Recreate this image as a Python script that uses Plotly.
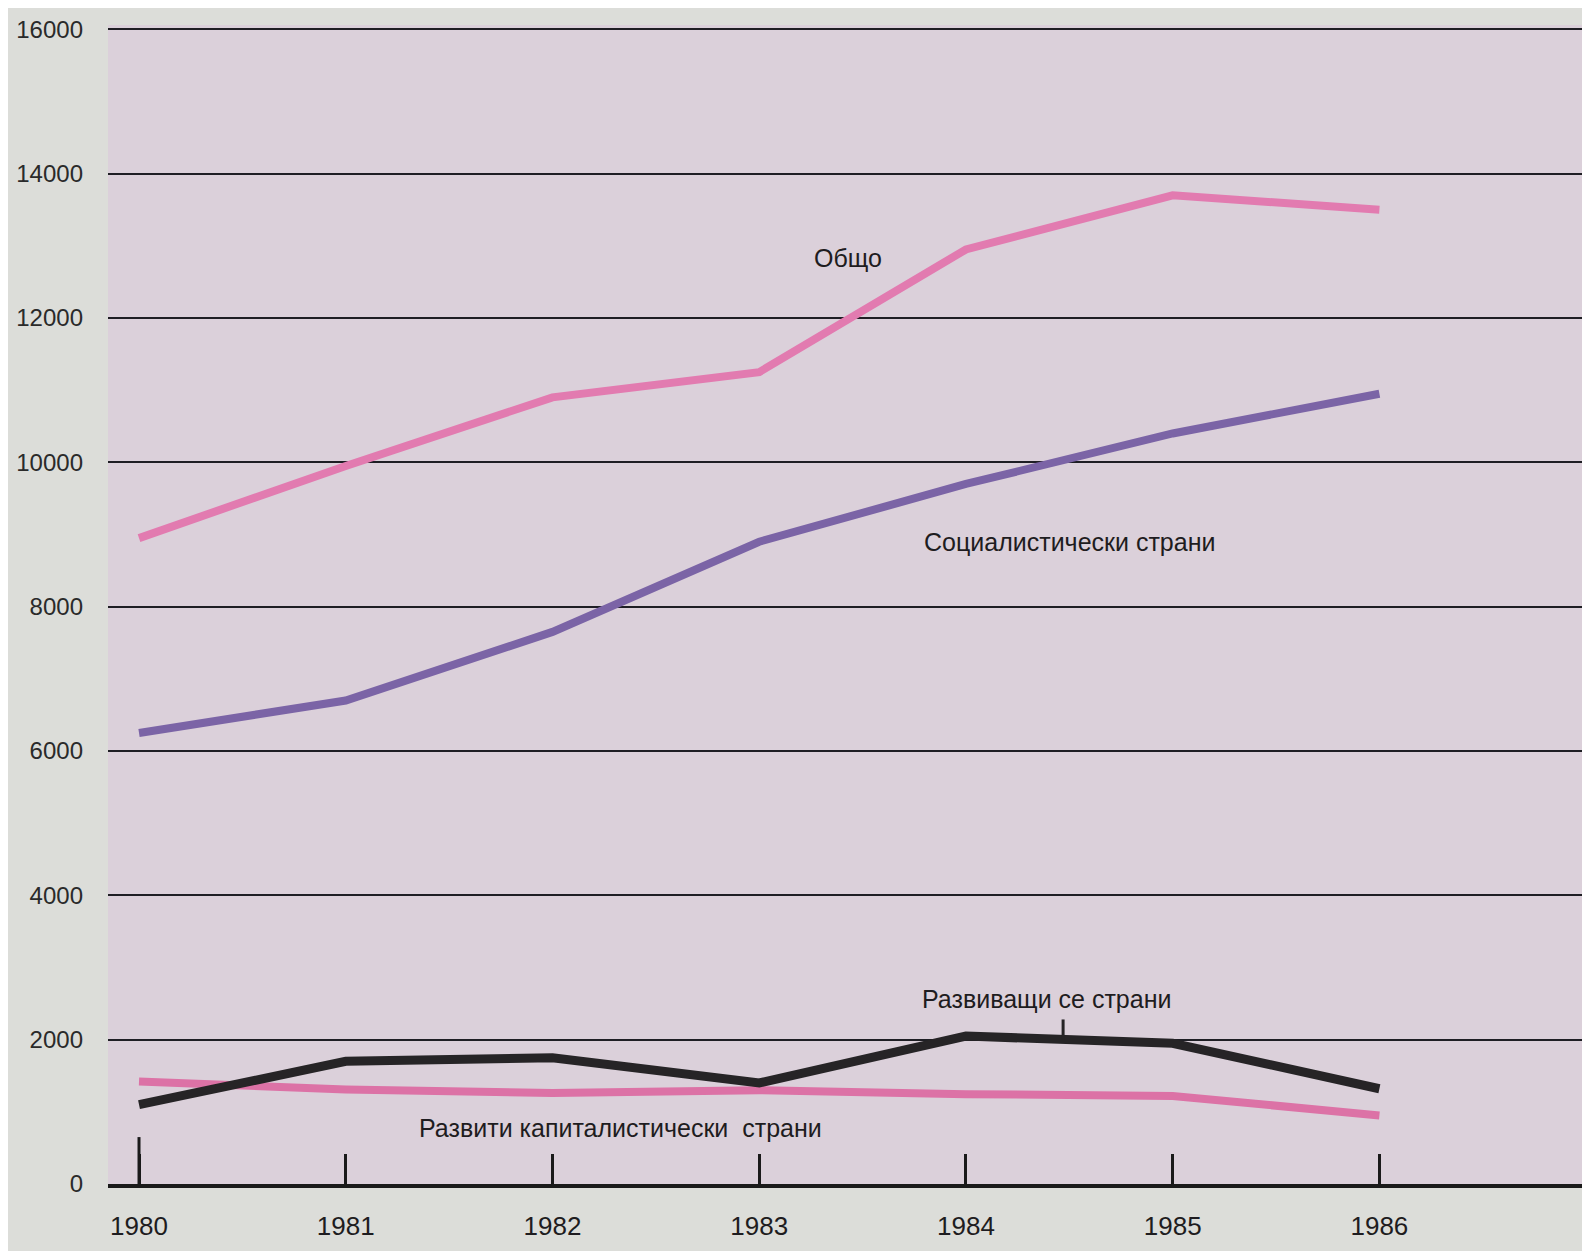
import plotly.graph_objects as go

years = [1980, 1981, 1982, 1983, 1984, 1985, 1986]
total = [8950, 9950, 10900, 11250, 12950, 13700, 13500]
socialist = [6250, 6700, 7650, 8900, 9700, 10400, 10950]
developing = [1100, 1700, 1750, 1400, 2050, 1950, 1320]
capitalist = [1420, 1310, 1260, 1300, 1245, 1220, 950]
y_ticks = [0, 2000, 4000, 6000, 8000, 10000, 12000, 14000, 16000]

labels = {
    "total": "Общо",
    "socialist": "Социалистически страни",
    "developing": "Развиващи се страни",
    "capitalist": "Развити капиталистически  страни",
}

FONT = "Liberation Sans, Arial, sans-serif"

fig = go.Figure()
fig.add_trace(go.Scatter(x=years, y=capitalist, mode="lines",
                         line=dict(color="#dc72a6", width=8), name=labels["capitalist"]))
fig.add_trace(go.Scatter(x=years, y=developing, mode="lines",
                         line=dict(color="#262426", width=9), name=labels["developing"]))
fig.add_trace(go.Scatter(x=years, y=socialist, mode="lines",
                         line=dict(color="#7b64a6", width=8), name=labels["socialist"]))
fig.add_trace(go.Scatter(x=years, y=total, mode="lines",
                         line=dict(color="#e27bb0", width=8), name=labels["total"]))

ann_font = dict(family=FONT, size=25, color="#1e1c20")
fig.add_annotation(x=1983.43, y=12830, text=labels["total"], showarrow=False, font=ann_font)
fig.add_annotation(x=1984.50, y=8900, text=labels["socialist"], showarrow=False, font=ann_font)
fig.add_annotation(x=1984.39, y=2570, text=labels["developing"], showarrow=False, font=ann_font)
fig.add_annotation(x=1982.33, y=780, text=labels["capitalist"], showarrow=False, font=ann_font)
# leader line under "Развиващи се страни"
fig.add_shape(type="line", x0=1984.47, x1=1984.47, y0=2000, y1=2280,
              line=dict(color="#262426", width=3))
# taller first tick
fig.add_shape(type="line", x0=years[0], x1=years[0], y0=0, y1=650,
              line=dict(color="#1a1a1a", width=3))

fig.update_layout(
    width=1582, height=1243,
    margin=dict(l=93, r=8, t=10, b=67),
    paper_bgcolor="#dcddd9",
    plot_bgcolor="#dbd0da",
    showlegend=False,
    font=dict(family=FONT, color="#1e1c20"),
)
fig.update_xaxes(
    range=[1979.85, 1986.98],
    tickmode="array", tickvals=years, ticktext=[str(y) for y in years],
    ticks="inside", ticklen=30, tickwidth=3, tickcolor="#1a1a1a",
    showgrid=False, zeroline=False,
    showline=True, linecolor="#1a1a1a", linewidth=4,
    tickfont=dict(family=FONT, size=26, color="#1e1c20"),
    ticklabelstandoff=16,
)
fig.update_yaxes(
    range=[0, 16060],
    tickmode="array", tickvals=y_ticks, ticktext=[str(v) for v in y_ticks],
    showgrid=True, gridcolor="#1e1e24", gridwidth=2,
    zeroline=False, showline=False, ticks="",
    tickfont=dict(family=FONT, size=24, color="#2a2a2a"),
    ticklabelstandoff=24,
)

fig.write_html("out.html")
